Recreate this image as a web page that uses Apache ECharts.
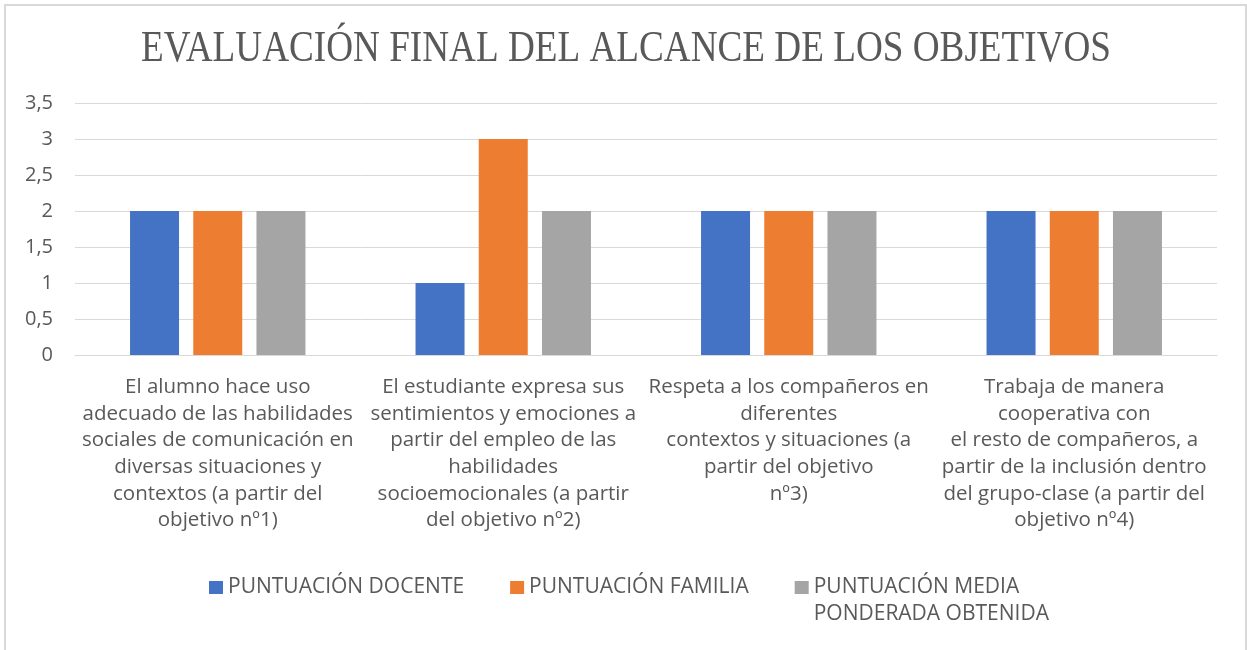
<!DOCTYPE html>
<html>
<head>
<meta charset="utf-8">
<script src="https://cdn.jsdelivr.net/npm/echarts@6/dist/echarts.min.js"></script>
<style>
  html, body { margin: 0; padding: 0; background: #ffffff; }
  #chart { width: 1247px; height: 650px; }
</style>
</head>
<body>
<div id="chart"></div>
<script>
// Objectives evaluated (axis labels broken into lines as printed)
const categories = [
  'El alumno hace uso\nadecuado de las habilidades\nsociales de comunicación en\ndiversas situaciones y\ncontextos (a partir del\nobjetivo nº1)',
  'El estudiante expresa sus\nsentimientos y emociones a\npartir del empleo de las\nhabilidades\nsocioemocionales (a partir\ndel objetivo nº2)',
  'Respeta a los compañeros en\ndiferentes\ncontextos y situaciones (a\npartir del objetivo\nnº3)',
  'Trabaja de manera\ncooperativa con\nel resto de compañeros, a\npartir de la inclusión dentro\ndel grupo-clase (a partir del\nobjetivo nº4)'
];

const seriesNames = [
  'PUNTUACIÓN DOCENTE',
  'PUNTUACIÓN FAMILIA',
  'PUNTUACIÓN MEDIA\nPONDERADA OBTENIDA'
];

const puntuacionDocente = [2, 1, 2, 2];
const puntuacionFamilia = [2, 3, 2, 2];
const puntuacionMedia = [2, 2, 2, 2];

const colors = ['#4472C4', '#ED7D31', '#A5A5A5'];

const titleText = 'EVALUACIÓN FINAL DEL ALCANCE DE LOS OBJETIVOS';

const textColor = '#595959';
const gridColor = '#D9D9D9';
const sansFont = '"Open Sans", "Noto Sans", sans-serif';
const legendLine = 27;

const chart = echarts.init(document.getElementById('chart'), null, { renderer: 'canvas' });

const values = [puntuacionDocente, puntuacionFamilia, puntuacionMedia];

chart.setOption({
  animation: false,
  backgroundColor: '#ffffff',
  graphic: [
    {
      type: 'rect',
      shape: { x: 5, y: 5, width: 1241, height: 700 },
      style: { fill: 'none', stroke: '#D9D9D9', lineWidth: 2 },
      silent: true,
      z: -10
    },
    {
      type: 'text',
      x: 626,
      y: 49,
      scaleX: 0.845,
      style: {
        text: titleText,
        font: '44px "Liberation Serif", "DejaVu Serif", serif',
        fill: textColor,
        textAlign: 'center',
        textVerticalAlign: 'middle'
      },
      silent: true
    }
  ],
  grid: {
    left: 75,
    right: 30,
    top: 103,
    bottom: 295,
    containLabel: false
  },
  legend: {
    left: 204,
    top: 542,
    itemWidth: 14,
    itemHeight: 13,
    itemGap: 46,
    icon: 'rect',
    textStyle: {
      color: textColor,
      fontSize: 21,
      fontFamily: sansFont,
      lineHeight: legendLine
    },
    // a wrapped name gets an empty first line so its first printed line sits beside the swatch
    formatter: name => (name.indexOf('\n') >= 0 ? ' \n' + name : name),
    data: seriesNames
  },
  xAxis: {
    type: 'category',
    data: categories,
    axisTick: { show: false },
    axisLine: { show: true, lineStyle: { color: gridColor, width: 1 } },
    axisLabel: {
      interval: 0,
      margin: 19,
      color: textColor,
      fontSize: 20.5,
      fontFamily: sansFont,
      lineHeight: 26.6,
      align: 'center'
    }
  },
  yAxis: {
    type: 'value',
    min: 0,
    max: 3.5,
    interval: 0.5,
    axisLine: { show: false },
    axisTick: { show: false },
    splitLine: { show: true, lineStyle: { color: gridColor, width: 1 } },
    axisLabel: {
      margin: 22,
      color: textColor,
      fontSize: 20,
      fontFamily: sansFont,
      formatter: v => String(v).replace('.', ',')
    }
  },
  series: seriesNames.map((name, i) => ({
    name: name,
    type: 'bar',
    data: values[i],
    barWidth: 49,
    barGap: '29%',
    itemStyle: { color: colors[i] }
  }))
});
</script>
</body>
</html>
